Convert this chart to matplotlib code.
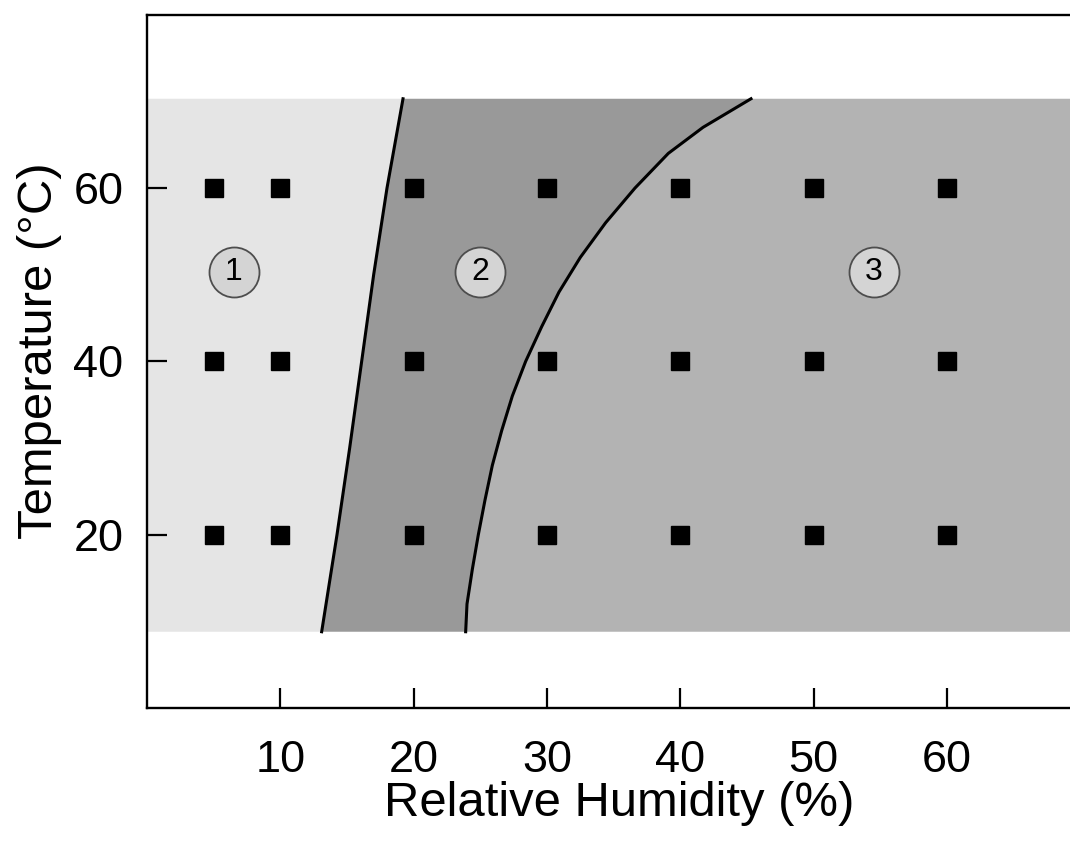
import numpy as np
import matplotlib
matplotlib.use("Agg")
import matplotlib.pyplot as plt

plt.rcParams['font.family'] = ['Liberation Sans', 'DejaVu Sans']

# measurement grid
rh_points = [5, 10, 20, 30, 40, 50, 60]
temp_points = [20, 40, 60]

# band of tested temperatures
band_low = 8.8
band_high = 70.3

# boundary 1 (region 1 | region 2)
b1_rh = [13.1, 14.25, 15.2, 16.1, 17.0, 18.0, 19.2]
b1_t = [8.8, 20.0, 30.0, 40.0, 50.0, 60.0, 70.3]

# boundary 2 (region 2 | region 3)
b2_rh = [23.9, 24.0, 24.4, 24.85, 25.35, 25.9, 26.6, 27.4, 28.4, 29.6,
         30.9, 32.5, 34.4, 36.6, 39.1, 41.7, 45.3]
b2_t = [8.8, 12.0, 16.0, 20.0, 24.0, 28.0, 32.0, 36.0, 40.0, 44.0,
        48.0, 52.0, 56.0, 60.0, 64.0, 67.0, 70.3]

# region labels
region_ids = ["1", "2", "3"]
region_rh = [6.5, 25.0, 54.5]
region_t = [50.3, 50.3, 50.3]

xmax = 70.8

fig = plt.figure(figsize=(10.70, 8.46), dpi=100)
ax = fig.add_axes([147 / 1070, 1 - 708 / 846, (1091 - 147) / 1070, (708 - 14.7) / 846])

# region polygons
left_x = [0] + b1_rh + [0]
left_y = [band_low] + b1_t + [band_high]
ax.fill(left_x, left_y, color="#e5e5e5", lw=0, zorder=1)

mid_x = b1_rh + b2_rh[::-1]
mid_y = b1_t + b2_t[::-1]
ax.fill(mid_x, mid_y, color="#999999", lw=0, zorder=1)

right_x = b2_rh + [xmax, xmax]
right_y = b2_t + [band_high, band_low]
ax.fill(right_x, right_y, color="#b3b3b3", lw=0, zorder=1)

ax.plot(b1_rh, b1_t, color="black", lw=2.2, zorder=2, solid_joinstyle="round")
ax.plot(b2_rh, b2_t, color="black", lw=2.2, zorder=2, solid_joinstyle="round")

# sample points
xx, yy = np.meshgrid(rh_points, temp_points)
ax.plot(xx.ravel(), yy.ravel(), "s", color="black", markersize=13.5, zorder=3)

# region circles
for lab, x, y in zip(region_ids, region_rh, region_t):
    ax.plot(x, y, "o", markersize=36, markerfacecolor="#d4d4d4",
            markeredgecolor="#4d4d4d", markeredgewidth=1.3, zorder=4)
    ax.text(x, y, lab, ha="center", va="center", fontsize=23, zorder=5)

ax.set_xlim(0, xmax)
ax.set_ylim(0, 80)
ax.set_xticks([10, 20, 30, 40, 50, 60])
ax.set_yticks([20, 40, 60])
ax.tick_params(axis="both", direction="in", length=14.5, width=1.6, labelsize=32.5)
ax.tick_params(axis="x", pad=23)
ax.tick_params(axis="y", pad=17)
for s in ax.spines.values():
    s.set_linewidth(1.7)

ax.set_xlabel("Relative Humidity (%)", fontsize=35.3, labelpad=0)
ax.set_ylabel("Temperature (°C)", fontsize=35.3)
ax.yaxis.set_label_coords(-0.09, 0.515)

fig.savefig("out.png", dpi=100)
